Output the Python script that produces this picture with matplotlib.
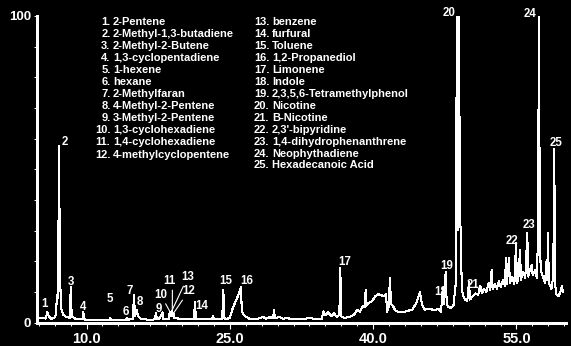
import matplotlib
matplotlib.use("Agg")
import matplotlib.pyplot as plt
from matplotlib.ticker import FixedLocator, MultipleLocator

# chromatogram trace (retention time, relative abundance)
trace_time = [
    4.85, 5.4, 5.75, 5.9, 6.05, 6.3, 6.6, 6.8, 6.91, 7.02, 7.12, 7.22, 7.32, 7.55, 7.9,
    8.25, 8.35, 8.45, 8.8, 9.2, 9.57, 9.67, 9.77, 10.5, 11.5, 12.36, 12.46, 12.56, 13.5,
    14.14, 14.24, 14.34, 14.85, 14.97, 15.07, 15.25, 15.4, 15.7, 16.5, 17.15, 17.27, 17.37,
    17.6, 17.95, 18.05, 18.6, 18.72, 18.79, 18.85, 18.92, 18.98, 19.04, 19.1, 19.2, 19.6,
    20.2, 21.25, 21.35, 21.45, 21.8, 22.4, 23.14, 23.24, 23.34, 24.2, 24.32, 24.42, 24.6,
    25.0, 25.3, 25.7, 26.05, 26.17, 26.25, 26.5, 27.0, 27.5, 28.0, 28.5, 28.8, 29.2, 29.52,
    29.62, 29.72, 30.2, 30.6, 31.0, 31.5, 32.0, 32.5, 33.0, 33.5, 34.0, 34.6, 34.8, 35.0,
    35.3, 35.6, 35.9, 36.2, 36.46, 36.56, 36.66, 37.0, 37.5, 38.0, 38.3, 38.6, 38.95, 39.1,
    39.22, 39.32, 39.6, 39.9, 40.2, 40.5, 40.8, 41.1, 41.35, 41.45, 41.62, 41.76, 41.86,
    42.05, 42.3, 42.6, 43.1, 43.6, 44.1, 44.55, 44.9, 45.1, 45.4, 45.9, 46.4, 46.8, 47.1,
    47.2, 47.31, 47.42, 47.59, 47.7, 47.85, 48.1, 48.4, 48.62, 48.77, 48.88, 48.98, 49.08,
    49.19, 49.28, 49.4, 49.6, 49.85, 50.03, 50.13, 50.4, 50.7, 51.0, 51.2, 51.4, 51.6,
    51.85, 52.1, 52.25, 52.4, 52.5, 52.75, 52.95, 53.15, 53.35, 53.6, 53.78, 53.9, 54.0,
    54.21, 54.31, 54.55, 54.78, 54.95, 55.05, 55.2, 55.37, 55.47, 55.7, 55.92, 56.13,
    56.23, 56.4, 56.59, 56.69, 56.95, 57.15, 57.25, 57.35, 57.45, 57.55, 57.75, 57.98,
    58.16, 58.22, 58.29, 58.39, 58.65, 58.85, 58.95, 59.05, 59.2, 59.4, 59.6, 59.75, 59.85,
]
trace_signal = [
    1.5, 1.6, 1.3, 3.5, 2.0, 1.2, 1.4, 2.6, 9.0, 8.0, 57.6, 18.0, 5.0, 2.6, 1.8,
    1.5, 11.6, 2.0, 1.3, 1.0, 1.1, 3.4, 1.0, 0.8, 0.9, 0.8, 1.4, 0.8, 0.9,
    0.8, 1.5, 0.9, 1.2, 9.0, 2.2, 4.1, 2.0, 1.2, 0.9, 1.0, 3.1, 1.0,
    1.2, 3.3, 1.0, 1.2, 3.6, 2.0, 3.3, 2.0, 3.8, 2.0, 3.0, 1.5, 1.3,
    1.0, 1.1, 6.8, 1.2, 1.0, 1.0, 1.0, 2.2, 1.0, 1.0, 10.6, 1.5, 1.0,
    1.6, 4.6, 7.6, 10.2, 11.6, 3.7, 2.3, 1.3, 1.0, 1.3, 1.8, 1.2, 1.8, 1.3,
    4.1, 1.4, 1.8, 1.2, 1.5, 1.0, 1.3, 1.0, 1.3, 1.4, 1.0, 1.2, 3.6, 2.3,
    3.4, 2.0, 3.0, 1.8, 2.5, 17.8, 2.0, 1.5, 1.8, 2.5, 4.2, 3.5, 5.5, 5.0,
    10.6, 5.5, 6.5, 7.0, 8.5, 9.2, 9.0, 8.5, 9.4, 3.5, 5.0, 14.5, 6.0,
    5.5, 4.0, 3.5, 3.3, 3.8, 4.2, 6.5, 10.0, 6.0, 4.2, 4.5, 4.0, 4.5, 3.5,
    7.5, 11.3, 6.0, 16.6, 6.0, 5.0, 4.8, 5.5, 12.0, 100.0, 30.0, 100.0, 40.0,
    23.7, 11.0, 9.0, 7.5, 7.0, 13.2, 7.5, 8.5, 9.5, 9.0, 12.0, 9.5, 11.0,
    10.0, 13.0, 10.5, 17.1, 11.0, 12.5, 11.0, 13.5, 11.5, 14.0, 12.0, 21.0, 12.5,
    21.0, 13.0, 15.0, 12.5, 25.9, 13.0, 14.5, 23.7, 14.0, 16.5, 14.5, 29.2,
    15.0, 17.0, 18.8, 15.5, 17.0, 14.5, 30.0, 100.0, 25.0, 17.0, 15.0, 13.0,
    20.4, 14.0, 29.2, 13.0, 11.0, 15.0, 56.6, 12.0, 9.0, 8.5, 10.0, 11.8, 10.0,
]

# identified compounds: peak number, apex time and height
peak_numbers = list(range(1, 26))
peak_time = [5.9, 7.12, 8.35, 9.67, 12.46, 14.24, 14.97, 15.25, 17.27, 18.72, 18.98, 19.1, 18.85,
             21.35, 24.32, 26.17, 36.56, 47.31, 47.59, 48.77, 50.03, 54.95, 56.13, 57.35, 58.95]
peak_height = [3.5, 57.6, 11.6, 3.4, 1.4, 1.5, 9.0, 4.1, 3.1, 3.6, 3.8, 3.0, 3.3,
               6.8, 10.6, 11.6, 17.8, 11.3, 16.6, 100.0, 13.2, 25.9, 29.2, 100.0, 56.6]
compound_names = [
    "2-Pentene", "2-Methyl-1,3-butadiene", "2-Methyl-2-Butene", "1,3-cyclopentadiene",
    "1-hexene", "hexane", "2-Methylfaran", "4-Methyl-2-Pentene", "3-Methyl-2-Pentene",
    "1,3-cyclohexadiene", "1,4-cyclohexadiene", "4-methylcyclopentene", "benzene",
    "furfural", "Toluene", "1,2-Propanediol", "Limonene", "Indole",
    "2,3,5,6-Tetramethylphenol", "Nicotine", "B-Nicotine", "2,3'-bipyridine",
    "1,4-dihydrophenanthrene", "Neophythadiene", "Hexadecanoic Acid",
]

# label placement (pixels from the apex) and which labels use a leader line
label_offset = {1: (-3, 8), 2: (6, 4), 3: (0, 5), 4: (0, 5), 5: (0, 19), 6: (-1.5, 6),
                7: (-4.5, 4), 8: (3, 7.5), 9: (2.5, 4), 10: (-9, 16.5), 11: (-3, 29.5),
                12: (15, 22), 13: (16.5, 35), 14: (6.5, -4), 15: (2, 9), 16: (5.5, 6),
                17: (4, 5.5), 18: (-2, -4.5), 19: (1, 5.5), 20: (-7.5, 3), 21: (4, -2.5),
                22: (-4.5, 2), 23: (2, 8), 24: (-8.5, 2), 25: (2, 6)}
leaders = {10, 11, 12, 13}

W, H = 571, 346
fig = plt.figure(figsize=(W / 100, H / 100), dpi=100, facecolor="black")
ax = fig.add_axes([37.3 / W, (H - 322.5) / H, 528.2 / W, 306.5 / H])
ax.set_facecolor("black")

ax.plot(trace_time, trace_signal, color="white", lw=0.75, antialiased=False)
ax.set_xlim(4.85, 60.13)
ax.set_ylim(0, 100)

for s in ["top", "right"]:
    ax.spines[s].set_visible(False)
for s in ["left", "bottom"]:
    ax.spines[s].set_color("white")
    ax.spines[s].set_linewidth(0.75)
    ax.spines[s].set_antialiased(False)

ax.xaxis.set_major_locator(FixedLocator([10, 25, 40, 55]))
ax.xaxis.set_minor_locator(MultipleLocator(5 / 3))
ax.set_xticklabels(["10.0", "25.0", "40.0", "55.0"])
ax.yaxis.set_major_locator(FixedLocator([0, 100]))
ax.yaxis.set_minor_locator(MultipleLocator(10))
ax.set_yticklabels(["0", "100"])

ax.tick_params(axis="x", which="major", length=4, width=0.8, color="white",
               labelcolor="white", labelsize=10.5, pad=2.5)
ax.tick_params(axis="x", which="minor", length=2.4, width=0.7, color="white")
ax.tick_params(axis="y", which="both", length=2.2, width=0.7, color="white",
               labelcolor="white", labelsize=9.5, pad=2.5)
for lab in ax.get_xticklabels() + ax.get_yticklabels():
    lab.set_fontweight("bold")
    lab.set_family(["Liberation Sans", "DejaVu Sans"])

for num, t, h in zip(peak_numbers, peak_time, peak_height):
    dx, dy = label_offset[num]
    kw = {}
    if num in leaders:
        kw["arrowprops"] = dict(arrowstyle="-", color="white", lw=0.8,
                                shrinkA=0, shrinkB=0,
                                relpos=(0.75, 0.0) if num == 11 else (0.5, 0.5))
    ax.annotate(str(num), xy=(t, h), xytext=(dx, dy), textcoords="offset pixels",
                ha="center", va="center", color="white", fontsize=8.3,
                fontweight="bold", family=["Liberation Sans", "DejaVu Sans"],
                annotation_clip=False, **kw)

# compound list in two columns
narrow = ["Liberation Sans Narrow", "Liberation Sans", "DejaVu Sans"]
for i, (num, name) in enumerate(zip(peak_numbers, compound_names)):
    if num <= 12:
        xr, y = 110.5, 22.2 + 12.03 * i
    else:
        xr, y = 269.5, 22.2 + 11.94 * (i - 12)
    fig.text(xr / W, 1 - y / H, f"{num}.", ha="right", va="center", color="white",
             fontsize=8, fontweight="bold", family=narrow)
    fig.text((xr + 2.5) / W, 1 - y / H, name, ha="left", va="center", color="white",
             fontsize=8, fontweight="bold", family=narrow)

fig.savefig("out.png", dpi=100, facecolor="black")
